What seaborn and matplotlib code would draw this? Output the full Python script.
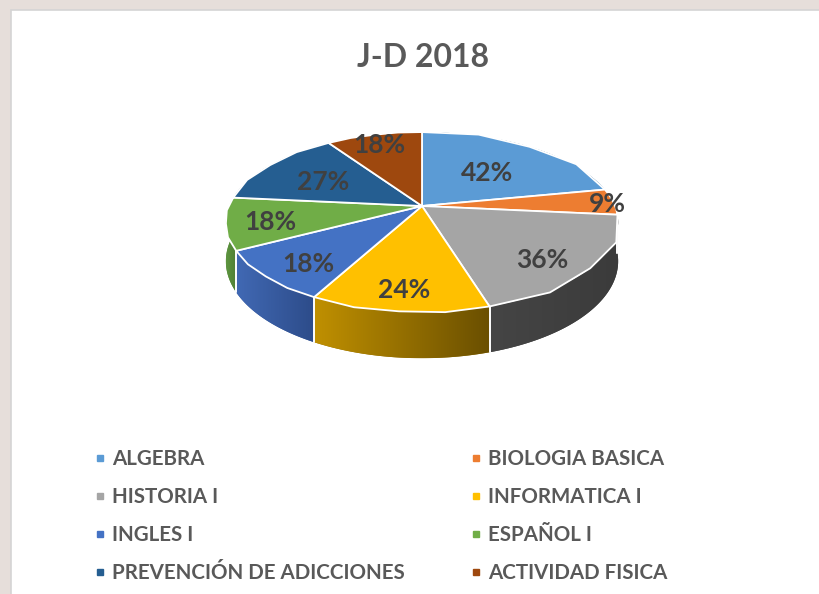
import numpy as np
import matplotlib
matplotlib.use("Agg")
import matplotlib.pyplot as plt
import seaborn as sns
from matplotlib.colors import LinearSegmentedColormap
from matplotlib.lines import Line2D
from matplotlib.patches import Rectangle, Polygon
from matplotlib.path import Path
from matplotlib.transforms import Transform, Affine2D

# datos
materias = ["ALGEBRA", "BIOLOGIA BASICA", "HISTORIA I", "INFORMATICA I",
            "INGLES I", "ESPAÑOL I", "PREVENCIÓN DE ADICCIONES", "ACTIVIDAD FISICA"]
valores = [42, 9, 36, 24, 18, 18, 27, 18]
titulo = "J-D 2018"

# estilo
colores = sns.color_palette(["#5B9BD5", "#ED7D31", "#A5A5A5", "#FFC000",
                             "#4472C4", "#70AD47", "#255E91", "#9E480E"])
# costado: (izquierda, derecha) para el degradado
lados = [("#3F6E99", "#3F6E99"), ("#B85E22", "#A0501A"), ("#454545", "#3B3B3B"),
         ("#C09000", "#6A4F00"), ("#4169B4", "#2D4C8A"), ("#5E9640", "#4E7D33"),
         ("#1B4670", "#1B4670"), ("#70330A", "#70330A")]
label_r = [0.57, 0.97, 0.774, 0.81, 0.78, 0.78, 0.63, 0.87]
label_da = [0, 0, -4, 0, 2.5, 0, 0, 0]

sns.set_theme(style="white")
plt.rcParams['font.family'] = ['Lato', 'DejaVu Sans']


class Inclinado(Transform):
    # disco unitario inclinado con perspectiva -> pixeles
    input_dims = output_dims = 2
    is_separable = False
    has_inverse = False

    def __init__(self, cx, cy, rx, ry, k, caida=0.0):
        super().__init__()
        self.cx, self.cy, self.rx, self.ry, self.k, self.caida = cx, cy, rx, ry, k, caida

    def transform_non_affine(self, values):
        v = np.asarray(values, dtype=float).reshape(-1, 2)
        x, y = v[:, 0], v[:, 1]
        w = 1 + self.k * y
        return np.column_stack([self.cx + self.rx * x / w,
                                self.cy - self.ry * y / w + self.caida / w])

    def transform_path_non_affine(self, path):
        verts = np.concatenate(path.to_polygons())
        return Path(self.transform_non_affine(verts))


geo = dict(cx=422, cy=206, rx=193, ry=87.1, k=0.178)
alto = 38
total = sum(valores)
arriba = Inclinado(**geo)
abajo = Inclinado(caida=alto, **geo)

fig = plt.figure(figsize=(8.2, 5.94), dpi=100)
fig.patch.set_facecolor("#E6DEDA")
ax = fig.add_axes([0, 0, 1, 1])
ax.add_patch(Rectangle((11, 10), 830, 600, facecolor="white", edgecolor="#D4D4D4",
                       lw=1.2, zorder=0))

# cara superior
wedges, _, pcts = ax.pie(valores, colors=colores, startangle=90, counterclock=False,
                         wedgeprops=dict(linewidth=1.3, edgecolor="white", zorder=4),
                         autopct=lambda p: f"{p * total / 100:.0f}%",
                         textprops=dict(fontsize=19, weight="bold", color="#404040"))
bajar = Affine2D().translate(0, -2.5)
for w, t, r, da in zip(wedges, pcts, label_r, label_da):
    w.set_transform(arriba + ax.transData)
    a = np.deg2rad((w.theta1 + w.theta2) / 2 + da)
    t.set_position((r * np.cos(a), r * np.sin(a)))
    t.set_transform(arriba + ax.transData + bajar)
    t.set_zorder(6)

# costados, del fondo hacia el frente
orden = sorted(range(len(wedges)),
               key=lambda i: -np.sin(np.deg2rad((wedges[i].theta1 + wedges[i].theta2) / 2)))
for z, i in enumerate(orden):
    w = wedges[i]
    th = np.deg2rad(np.linspace(w.theta1, w.theta2, 80))
    circ = np.column_stack([np.cos(th), np.sin(th)])
    pts = np.vstack([arriba.transform(circ), abajo.transform(circ)[::-1]])
    c0, c1 = lados[i]
    base = Polygon(pts, closed=True, facecolor=sns.blend_palette([c0, c1], 3)[1],
                   edgecolor="none", zorder=1 + z * 0.01)
    ax.add_patch(base)
    cmap = LinearSegmentedColormap.from_list(f"lado{i}", [c0, c1])
    x0, x1 = pts[:, 0].min(), pts[:, 0].max()
    y0, y1 = pts[:, 1].min(), pts[:, 1].max()
    im = ax.imshow(np.linspace(0, 1, 256)[None, :], cmap=cmap, aspect="auto",
                   extent=(x0, x1, y1, y0), interpolation="bilinear",
                   zorder=1 + z * 0.01 + 0.005)
    im.set_clip_path(base)

# lineas blancas entre gajos en el costado
for w in wedges:
    for th in (w.theta1, w.theta2):
        a = np.deg2rad(th)
        if np.sin(a) < 0:
            p0 = arriba.transform([[np.cos(a), np.sin(a)]])[0]
            p1 = abajo.transform([[np.cos(a), np.sin(a)]])[0]
            ax.plot([p0[0], p1[0]], [p0[1], p1[1]], color="white", lw=1.2, zorder=3)

ax.set_xlim(0, 820)
ax.set_ylim(594, 0)
ax.set_aspect("auto")
ax.axis("off")

fig.text(423 / 820, 1 - 67 / 594, titulo, ha="center", va="baseline",
         fontsize=23, weight="bold", color="#595959")

handles = [Line2D([], [], marker="s", linestyle="none", markersize=5,
                  markerfacecolor=c, markeredgecolor=c) for c in colores]
for i, x0 in enumerate([94, 470]):
    fig.legend(handles[i::2], materias[i::2], loc="upper left",
               bbox_to_anchor=(x0 / 820, 1 - 449 / 594), frameon=False,
               borderpad=0, borderaxespad=0, handlelength=0.6, handletextpad=0.3,
               labelspacing=0.88, labelcolor="#595959",
               prop=dict(size=14.8, weight="bold"))

fig.savefig("out.png", dpi=100, facecolor=fig.get_facecolor())
